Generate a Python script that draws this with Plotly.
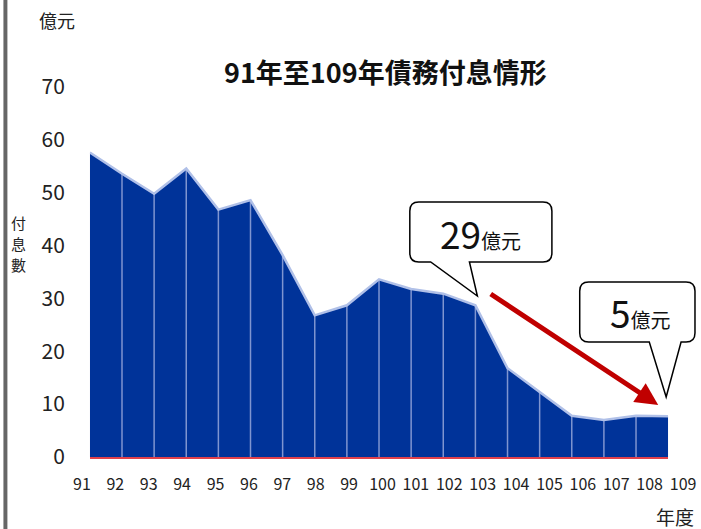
import plotly.graph_objects as go

# ---- data ----
years = list(range(91, 110))
values = [57.6, 53.6, 49.8, 54.6, 46.8, 48.6, 38.2, 26.8, 28.7, 33.6,
          31.8, 30.9, 28.7, 16.8, 12.3, 7.8, 7.0, 7.8, 7.7]
tick_text = [str(y) for y in years]
y_ticks = [0, 10, 20, 30, 40, 50, 60, 70]
title_text = "91年至109年債務付息情形"
y_title_chars = ["付", "息", "數"]
callout1 = ("29", "億元")
callout2 = ("5", "億元")

FONT = "Noto Sans CJK TC"
W, H = 701, 529
ML, MR, MT, MB = 70, 5, 87, 72
PW = W - ML - MR
PH = H - MT - MB


def PX(x):
    return (x - ML) / PW


def PY(y):
    return (H - MB - y) / PH


fig = go.Figure()
fig.add_trace(go.Scatter(x=years, y=values, fill='tozeroy', fillcolor='#003399',
                         mode='lines', line=dict(width=0, color='#003399'),
                         hoverinfo='skip', showlegend=False))
vx, vy = [], []
for yr, v in zip(years[1:-1], values[1:-1]):
    vx += [yr, yr, None]
    vy += [0, v, None]
fig.add_trace(go.Scatter(x=vx, y=vy, mode='lines', line=dict(color='#7f95d0', width=1.5),
                         hoverinfo='skip', showlegend=False))
fig.add_trace(go.Scatter(x=years, y=values, mode='lines', line=dict(color='#b0c0e8', width=2.5),
                         hoverinfo='skip', showlegend=False))
fig.add_trace(go.Scatter(x=years, y=values, xaxis='x2', mode='none',
                         hoverinfo='skip', showlegend=False))


def callout_path(L, T, R, B, r, t1, tip, t2):
    p = [f"M{PX(L + r)},{PY(T)}", f"L{PX(R - r)},{PY(T)}",
         f"Q{PX(R)},{PY(T)} {PX(R)},{PY(T + r)}",
         f"L{PX(R)},{PY(B - r)}", f"Q{PX(R)},{PY(B)} {PX(R - r)},{PY(B)}",
         f"L{PX(t2)},{PY(B)}", f"L{PX(tip[0])},{PY(tip[1])}", f"L{PX(t1)},{PY(B)}",
         f"L{PX(L + r)},{PY(B)}", f"Q{PX(L)},{PY(B)} {PX(L)},{PY(B - r)}",
         f"L{PX(L)},{PY(T + r)}", f"Q{PX(L)},{PY(T)} {PX(L + r)},{PY(T)}", "Z"]
    return " ".join(p)


shapes = [
    dict(type='rect', xref='paper', yref='paper', x0=PX(3), x1=PX(7), y0=PY(0), y1=PY(H),
         fillcolor='#666666', line=dict(width=0)),
    dict(type='path', xref='paper', yref='paper',
         path=callout_path(412, 202, 555, 262, 9, 433, (480, 296), 472),
         fillcolor='white', line=dict(color='black', width=1.5)),
    dict(type='path', xref='paper', yref='paper',
         path=callout_path(583, 282, 699, 342, 9, 653, (670, 397), 685),
         fillcolor='white', line=dict(color='black', width=1.5)),
]


def label(text, x, y, size, color='#222222', pad=1):
    return dict(text=text, x=PX(x), y=PY(y), xref='paper', yref='paper',
                xanchor='center', yanchor='middle', showarrow=False, borderpad=pad,
                font=dict(size=size, color=color, family=FONT))


annotations = [
    label(f"<b>{title_text}</b>", 388, 72, 27, '#111111'),
    label("億元", 57, 20, 18),
    label("年度", 679, 516, 19),
    label(f"<span style='font-size:37px'>{callout1[0]}</span>"
          f"<span style='font-size:20px'>{callout1[1]}</span>", 483, 233, 20, '#111111'),
    label(f"<span style='font-size:37px'>{callout2[0]}</span>"
          f"<span style='font-size:20px'>{callout2[1]}</span>", 644, 312, 20, '#111111'),
    dict(text="", x=PX(662), y=PY(405), xref='paper', yref='paper',
         ax=493 - 662, ay=293 - 405, axref='pixel', ayref='pixel',
         showarrow=True, arrowhead=2, arrowsize=0.9, arrowwidth=5,
         arrowcolor='#C00000', standoff=0),
]
for i, ch in enumerate(y_title_chars):
    annotations.append(label(ch, 18, 222 + 21 * i, 15, pad=0))

fig.update_layout(
    width=W, height=H,
    margin=dict(l=ML, r=MR, t=MT, b=MB),
    paper_bgcolor='white', plot_bgcolor='rgba(0,0,0,0)',
    font=dict(family=FONT, color='#222222'),
    showlegend=False,
    xaxis=dict(domain=[(90 - ML) / PW, (672 - ML) / PW], range=[91, 109], anchor='y',
               showgrid=False, zeroline=False, showticklabels=False, ticks='',
               showline=True, linecolor='#E0414B', linewidth=1.5),
    xaxis2=dict(domain=[0, 1], range=[91 - (82 - ML) / 33.61, 109 + (W - MR - 687) / 33.61],
                anchor='y', tickmode='array', tickvals=years, ticktext=tick_text,
                tickfont=dict(size=16, color='#222222', family=FONT),
                showgrid=False, zeroline=False, showline=False, ticks='',
                ticklabelstandoff=16),
    yaxis=dict(range=[0, 70], tickmode='array', tickvals=y_ticks, anchor='x',
               tickfont=dict(size=21, color='#222222', family=FONT),
               showgrid=False, zeroline=False, showline=False, ticks='',
               ticklabelstandoff=24),
    shapes=shapes,
    annotations=annotations,
)

fig.write_html("out.html", config={'displayModeBar': False},
               post_script="document.body.style.margin='0px';document.body.style.overflow='hidden';")
